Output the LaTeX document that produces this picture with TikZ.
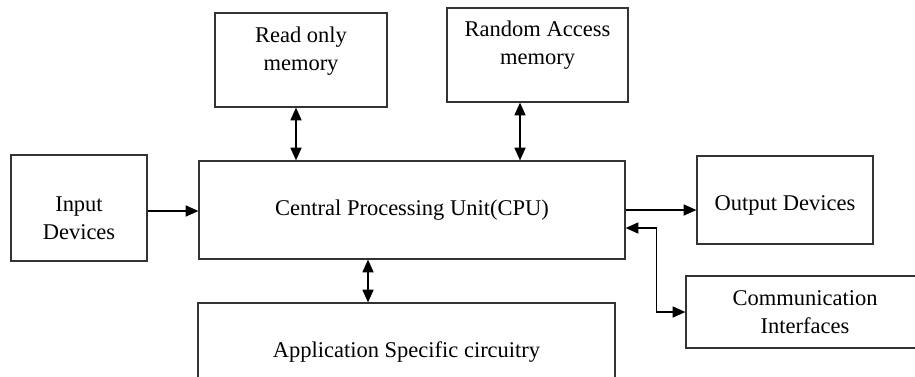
\documentclass[tikz,border=0pt]{standalone}
\usepackage{fontspec}
\setmainfont{Liberation Serif}
\usetikzlibrary{arrows.meta,positioning,calc}

\begin{document}
\begin{tikzpicture}[
        block/.style={rectangle, draw=black!80, line width=0.9pt, align=center, inner sep=0pt, font=\fontsize{16}{20}\selectfont},
        arrow/.style={-{Triangle[length=0.32cm,width=0.28cm]}, line width=0.8pt},
        biarrow/.style={{Triangle[length=0.32cm,width=0.28cm]}-{Triangle[length=0.32cm,width=0.28cm]}, line width=0.8pt}
    ]
        \useasboundingbox (0,0) rectangle (22.875,-9.4);
        \clip (0,0) rectangle (22.875,-9.4);

        % Blocks
        \node[block, minimum width=4.3cm, minimum height=2.35cm, text depth=16pt] (rom) at (7.525,-1.5) {Read only\\memory};
        \node[block, minimum width=4.525cm, minimum height=2.35cm, text depth=17.5pt] (ram) at (13.4375,-1.375) {Random Access\\memory};
        \node[block, minimum width=3.4cm, minimum height=2.65cm, text height=45pt] (inp) at (1.975,-5.2) {Input\\Devices};
        \node[block, minimum width=10.65cm, minimum height=2.45cm] (cpu) at (10.3,-5.25) {Central Processing Unit(CPU)};
        \node[block, minimum width=4.4cm, minimum height=2.2cm, text height=18pt] (out) at (19.625,-5.0) {Output Devices};
        \node[block, minimum width=5.95cm, minimum height=1.8cm] (com) at (20.125,-7.8) {Communication\\Interfaces};
        \node[block, minimum width=10.425cm, minimum height=2.45cm] (app) at (10.1625,-8.8) {Application Specific circuitry};

        % Arrows
        \draw[arrow] ([yshift=-0.075cm]inp.east) -- ([yshift=-0.075cm]inp.east -| cpu.west);
        \draw[biarrow] ([xshift=-0.125cm]rom.south) -- ([xshift=-0.125cm]rom.south |- cpu.north);
        \draw[biarrow] ([xshift=-0.4375cm]ram.south) -- ([xshift=-0.4375cm]ram.south |- cpu.north);
        \draw[arrow] (cpu.east) -- (cpu.east -| out.west);
        \draw[biarrow] ([yshift=-0.45cm]cpu.east) -- ++(0.775cm,0) |- (com.west);
        \draw[biarrow] ([xshift=-1.1cm]cpu.south) -- ([xshift=-1.1cm]cpu.south |- app.north);

    \end{tikzpicture}
\end{document}
